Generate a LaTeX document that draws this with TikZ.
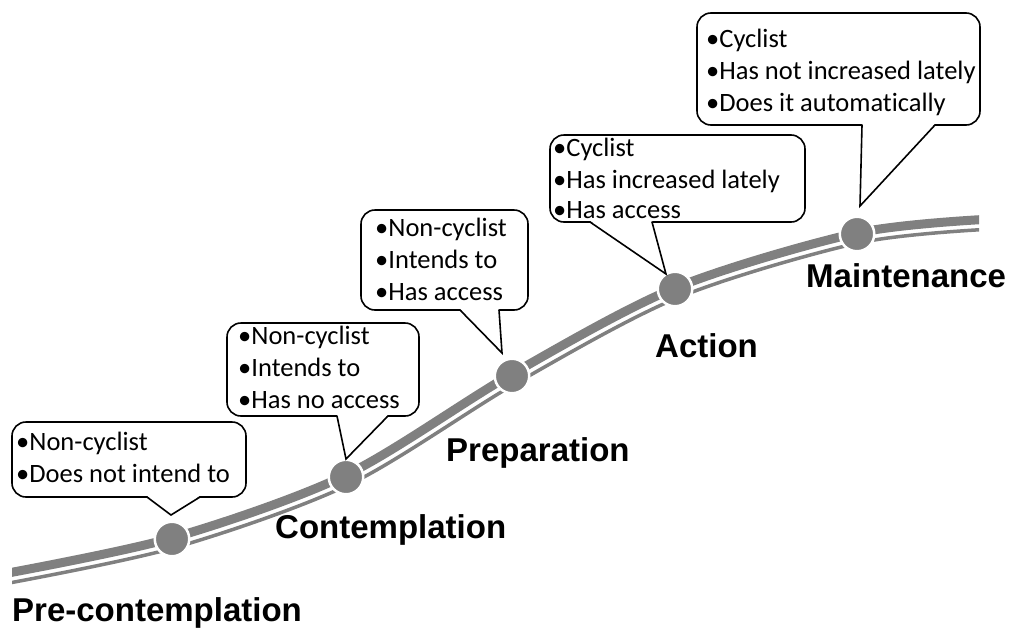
\documentclass[tikz,border=0pt]{standalone}
\usepackage{fontspec}
\setmainfont{Carlito}[Ligatures={NoCommon}]
\newfontfamily\stagefont{Liberation Sans}
\definecolor{roadgray}{RGB}{128,128,128}
\tikzset{
  road/.style={draw=roadgray, line width=9pt},
  roadedge/.style={draw=roadgray, line width=3.5pt},
  milestone/.style={circle, fill=roadgray, draw=white, line width=2.5pt,
    minimum size=34.5pt, inner sep=0pt},
  bubble/.style={draw=black, fill=white, line width=1.6pt, rounded corners=14pt,
    inner sep=0pt},
  pointer/.style={draw=black, line width=1.6pt, line join=miter, line cap=round},
  bubbletext/.style={anchor=base west, inner sep=0pt, font=\fontsize{26.5}{32}\selectfont},
  stage/.style={anchor=base west, inner sep=0pt,
    font=\stagefont\bfseries\fontsize{33}{40}\selectfont},
}
\begin{document}
\begin{tikzpicture}[x=1pt, y=-1pt]
\useasboundingbox (0,0) rectangle (1009,627);

% the road: a thick band with a thin edge line below it
\begin{scope}
  \clip (12,0) rectangle (979,627);
  \draw[road] plot[smooth] coordinates {(0,574.5) (172,538) (346,475) (512,374)
    (675,288) (857,233) (992,219)};
  \draw[roadedge] plot[smooth] coordinates {(2.1,584.3) (174.8,547.6) (350.3,484.0)
    (517.0,382.7) (678.8,297.3) (859.2,242.8) (993,229)};
\end{scope}

% milestones along the road
\node[milestone] (dot1) at (172,539) {};
\node[milestone] (dot2) at (346,477) {};
\node[milestone] (dot3) at (512,376) {};
\node[milestone] (dot4) at (675,289) {};
\node[milestone] (dot5) at (857,234) {};

% callout 1
\node[bubble, minimum width=234pt, minimum height=75pt] (box1) at (129,459.5) {};
\coordinate (t1) at (171,515);
\coordinate (a1) at (147,497);
\coordinate (b1) at (200,497);
\fill[white] ([yshift=1.2pt]a1) -- (t1) -- ([yshift=1.2pt]b1) -- cycle;
\draw[pointer] (a1) -- (t1) -- (b1);
\node[bubbletext] (c1l1) at (16,450) {•Non-cyclist};
\node[bubbletext] (c1l2) at (16,482) {•Does not intend to};

% callout 2
\node[bubble, minimum width=192pt, minimum height=93pt] (box2) at (323,369.5) {};
\coordinate (t2) at (346,459);
\coordinate (a2) at (337,416);
\coordinate (b2) at (388,416);
\fill[white] ([yshift=1.2pt]a2) -- (t2) -- ([yshift=1.2pt]b2) -- cycle;
\draw[pointer] (a2) -- (t2) -- (b2);
\node[bubbletext] (c2l1) at (238,344) {•Non-cyclist};
\node[bubbletext] (c2l2) at (238,376) {•Intends to};
\node[bubbletext] (c2l3) at (238,408) {•Has no access};

% callout 3
\node[bubble, minimum width=167pt, minimum height=100pt] (box3) at (444.5,260) {};
\coordinate (t3) at (502,353);
\coordinate (a3) at (460,310);
\coordinate (b3) at (499,310);
\fill[white] ([yshift=1.2pt]a3) -- (t3) -- ([yshift=1.2pt]b3) -- cycle;
\draw[pointer] (a3) -- (t3) -- (b3);
\node[bubbletext] (c3l1) at (375,236) {•Non-cyclist};
\node[bubbletext] (c3l2) at (375,268) {•Intends to};
\node[bubbletext] (c3l3) at (375,300) {•Has access};

% callout 4
\node[bubble, minimum width=255pt, minimum height=87pt] (box4) at (677.5,178.5) {};
\coordinate (t4) at (666,274);
\coordinate (a4) at (590,222);
\coordinate (b4) at (652,222);
\fill[white] ([yshift=1.2pt]a4) -- (t4) -- ([yshift=1.2pt]b4) -- cycle;
\draw[pointer] (a4) -- (t4) -- (b4);
\node[bubbletext] (c4l1) at (553,156) {•Cyclist};
\node[bubbletext] (c4l2) at (553,188) {•Has increased lately};
\node[bubbletext] (c4l3) at (553,218) {•Has access};

% callout 5
\node[bubble, minimum width=283pt, minimum height=112pt] (box5) at (838.5,69) {};
\coordinate (t5) at (860,206);
\coordinate (a5) at (862,125);
\coordinate (b5) at (935,125);
\fill[white] ([yshift=1.2pt]a5) -- (t5) -- ([yshift=1.2pt]b5) -- cycle;
\draw[pointer] (a5) -- (t5) -- (b5);
\node[bubbletext] (c5l1) at (706,47) {•Cyclist};
\node[bubbletext] (c5l2) at (706,79) {•Has not increased lately};
\node[bubbletext] (c5l3) at (706,111) {•Does it automatically};

% stage names
\node[stage] (s1) at (12,621) {Pre-contemplation};
\node[stage] (s2) at (275,538) {Contemplation};
\node[stage] (s3) at (446,461) {Preparation};
\node[stage] (s4) at (655,357) {Action};
\node[stage] (s5) at (806,287) {Maintenance};
\end{tikzpicture}
\end{document}
